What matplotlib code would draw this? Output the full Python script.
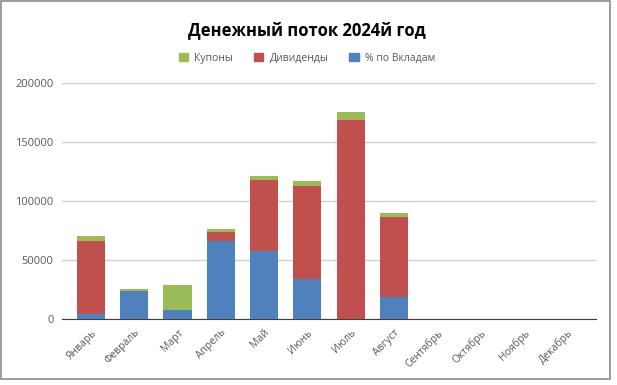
import numpy as np
import matplotlib.pyplot as plt
from matplotlib.patches import Rectangle, Patch

months = ['Январь', 'Февраль', 'Март', 'Апрель', 'Май', 'Июнь', 'Июль',
          'Август', 'Сентябрь', 'Октябрь', 'Ноябрь', 'Декабрь']
deposits = [4000, 24000, 8000, 66500, 58000, 34000, 0, 19000, 0, 0, 0, 0]
dividends = [62500, 0, 0, 7500, 60000, 79000, 169000, 67500, 0, 0, 0, 0]
coupons = [4000, 1700, 21000, 2500, 3500, 4000, 6500, 3700, 0, 0, 0, 0]
yticks = [0, 50000, 100000, 150000, 200000]

c_blue = '#4F81BD'
c_red = '#C0504D'
c_green = '#9BBB59'
txt = '#595959'


def main():
    plt.rcParams['font.family'] = ['Open Sans', 'DejaVu Sans']
    fig = plt.figure(figsize=(6.17, 3.85), dpi=100)
    W, H = 617, 385
    ax = fig.add_axes([62 / W, 1 - 319 / H, (596 - 62) / W, (319 - 83) / H])

    x = np.arange(len(months))
    dep = np.array(deposits)
    div = np.array(dividends)
    cpn = np.array(coupons)
    w = 0.65
    ax.bar(x, dep, w, color=c_blue, zorder=3)
    ax.bar(x, div, w, bottom=dep, color=c_red, zorder=3)
    ax.bar(x, cpn, w, bottom=dep + div, color=c_green, zorder=3)

    ax.set_xlim(-0.67, 11.67)
    ax.set_ylim(0, 200000)
    ax.set_yticks(yticks)
    ax.set_yticklabels([str(v) for v in yticks])
    ax.yaxis.grid(True, color='#D0D0D0', linewidth=1, zorder=0)
    for s in ['top', 'right', 'left']:
        ax.spines[s].set_visible(False)
    ax.spines['bottom'].set_color('#404040')
    ax.tick_params(axis='y', length=0, labelsize=8, labelcolor=txt, pad=6)
    ax.tick_params(axis='x', length=0, labelsize=7.5, labelcolor=txt, pad=6)
    ax.set_xticks(x)
    ax.set_xticklabels(months, rotation=45, ha='right', rotation_mode='anchor')

    fig.text(307 / W, 1 - 30 / H, 'Денежный поток 2024й год', ha='center', va='center',
             fontsize=12, fontweight='bold', color='black')

    handles = [Patch(color=c_green), Patch(color=c_red), Patch(color=c_blue)]
    fig.legend(handles, ['Купоны', 'Дивиденды', '% по Вкладам'], loc='center',
               bbox_to_anchor=(307 / W, 1 - 58 / H), ncol=3, frameon=False,
               fontsize=7.5, labelcolor=txt, handlelength=0.9, handleheight=0.9,
               columnspacing=2.0, handletextpad=0.6)

    # chart frame
    fig.patches.append(Rectangle((0.5 / W, 1 - 379 / H), 609.5 / W, 378.5 / H,
                                 transform=fig.transFigure, fill=False,
                                 edgecolor='#8C8C8C', linewidth=1.2))

    fig.savefig('out.png', dpi=100)


if __name__ == '__main__':
    main()
